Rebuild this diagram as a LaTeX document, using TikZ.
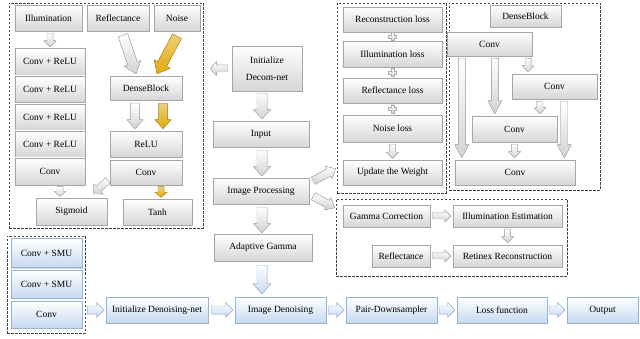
\documentclass[tikz,border=0pt]{standalone}
\usepackage{fontspec}
\setmainfont{Liberation Serif}
\usetikzlibrary{calc,shadows}
\definecolor{boxline}{HTML}{A6A6A6}
\definecolor{boxlow}{HTML}{D6D6D6}
\definecolor{blueline}{HTML}{95B3D7}
\definecolor{bluelow}{HTML}{C6D9F1}
\definecolor{gold}{HTML}{E2A90C}
\definecolor{goldline}{HTML}{B88A0A}
% block arrow: [style]{from}{to}{shaft half width}{head half width}{head length}
\newcommand{\fatarrow}[6][]{%
  \coordinate (fa-s) at (#2);
  \coordinate (fa-e) at (#3);
  \coordinate (fa-m) at ($(fa-e)!#6!(fa-s)$);
  \filldraw[fatarrow,#1] ($(fa-s)!#4!90:(fa-e)$) -- ($(fa-m)!#4!90:(fa-e)$) -- ($(fa-m)!#5!90:(fa-e)$) -- (fa-e)
    -- ($(fa-m)!#5!-90:(fa-e)$) -- ($(fa-m)!#4!-90:(fa-e)$) -- ($(fa-s)!#4!-90:(fa-e)$) -- cycle;
}
\begin{document}
\begin{tikzpicture}[x=1pt,y=-1pt,
  box/.style={draw=boxline, line width=.5pt, top color=white, bottom color=boxlow, inner sep=0pt,
    minimum height=26pt, font=\fontsize{9.5}{11}\selectfont,
    drop shadow={shadow xshift=1pt, shadow yshift=-1pt, opacity=.3}},
  bluebox/.style={box, draw=blueline, bottom color=bluelow},
  panel/.style={draw=black!75, line width=.7pt, dash pattern=on 2.5pt off 1.5pt, inner sep=0pt},
  fatarrow/.style={draw=gray!65, line width=.4pt, top color=white, bottom color=gray!35},
  goldarrow/.style={draw=goldline, top color=gold!55, bottom color=gold},
  bluearrow/.style={draw=blueline, top color=white, bottom color=bluelow},
  pics/plusmark/.style={code={\filldraw[fatarrow] (-4,-1.3) -- (-1.3,-1.3) -- (-1.3,-4) -- (1.3,-4) -- (1.3,-1.3) -- (4,-1.3)
    -- (4,1.3) -- (1.3,1.3) -- (1.3,4) -- (-1.3,4) -- (-1.3,1.3) -- (-4,1.3) -- cycle;}}]
\useasboundingbox (0,0) rectangle (640,339);

%DECOM-NET
\node[panel, minimum width=194pt, minimum height=225pt] (lpanel) at (106,115.5) {};
\node[box, minimum width=67pt] (ill) at (48.5,18) {Illumination};
\node[box, minimum width=62pt] (refl) at (118,18) {Reflectance};
\node[box, minimum width=46pt] (noise) at (177,18) {Noise};
\node[box, minimum width=70pt, minimum height=27pt] (cr1) at (50,61.5) {Conv + ReLU};
\node[box, minimum width=70pt] (cr2) at (50,89) {Conv + ReLU};
\node[box, minimum width=70pt] (cr3) at (50,117) {Conv + ReLU};
\node[box, minimum width=70pt] (cr4) at (50,144) {Conv + ReLU};
\node[box, minimum width=70pt, minimum height=27pt] (lconv) at (50,171.5) {Conv};
\node[box, minimum width=71pt, minimum height=27pt] (sig) at (71.5,211.5) {Sigmoid};
\node[box, minimum width=72pt, minimum height=24pt] (dense) at (146,88) {DenseBlock};
\node[box, minimum width=72pt] (relu) at (146,144) {ReLU};
\node[box, minimum width=72pt, minimum height=25pt] (rconv) at (146,172.5) {Conv};
\node[box, minimum width=69pt] (tanh) at (157.5,212) {Tanh};
\fatarrow{$(ill.south -| cr1.north)+(0,2)$}{$(cr1.north)+(0,-1)$}{3pt}{6pt}{6pt}
\fatarrow{$(refl.south)+(5,4)$}{$(dense.north)+(-10,-2)$}{5pt}{9pt}{11pt}
\fatarrow[goldarrow]{$(noise.south)+(0,5)$}{$(dense.north)+(11,-2)$}{5pt}{9pt}{11pt}
\fatarrow{$(dense.south)+(-11,3)$}{$(relu.north)+(-11,-2)$}{4.5pt}{8pt}{9pt}
\fatarrow[goldarrow]{$(dense.south)+(17,3)$}{$(relu.north)+(17,-2)$}{4.5pt}{8pt}{9pt}
\fatarrow{$(lconv.south)+(10,1.5)$}{$(sig.north)+(-11.5,-1.5)$}{3pt}{6pt}{5pt}
\fatarrow{$(rconv.south west)+(-2,-5)$}{$(sig.north east)+(-14,-4)$}{3.5pt}{7pt}{7pt}
\fatarrow[goldarrow]{$(rconv.south)+(15,1.5)$}{$(tanh.north)+(3.5,-1.5)$}{3pt}{6pt}{5pt}

%MAIN
\node[box, minimum width=70pt, minimum height=45pt, align=center, font=\fontsize{9.5}{17}\selectfont] (init) at (267,68.5) {Initialize\\Decom-net};
\node[box, minimum width=96pt] (input) at (261,134) {Input};
\node[box, minimum width=96pt] (improc) at (261,191) {Image Processing};
\node[box, minimum width=98pt, minimum height=27pt] (gamma) at (263,247.5) {Adaptive Gamma};
\fatarrow{$(init.west)+(-4,0)$}{$(lpanel.east |- init.west)+(7,0)$}{3.5pt}{7pt}{6pt}
\fatarrow{$(init.south)+(-5,2)$}{$(input.north)+(1,-2)$}{5pt}{8.5pt}{9pt}
\fatarrow{$(input.south)+(1,3)$}{$(improc.north)+(1,-2)$}{5pt}{8.5pt}{9pt}
\fatarrow{$(improc.south)+(1,3)$}{$(gamma.north)+(-1,-1)$}{5pt}{8.5pt}{9pt}

%LOSS
\node[panel, minimum width=109pt, minimum height=190pt] (losspanel) at (391.5,98) {};
\node[box, minimum width=99pt, minimum height=25pt] (rec) at (392.5,19.5) {Reconstruction loss};
\node[box, minimum width=99pt] (illl) at (392.5,54) {Illumination loss};
\node[box, minimum width=99pt, minimum height=25pt] (refll) at (392.5,90.5) {Reflectance loss};
\node[box, minimum width=99pt, minimum height=27pt] (noisel) at (392.5,128.5) {Noise loss};
\node[box, minimum width=99pt, minimum height=25pt] (upd) at (392.5,172.5) {Update the Weight};
\pic at ($(rec.south)!.5!(illl.north)$) {plusmark};
\pic at ($(illl.south)!.5!(refll.north)$) {plusmark};
\pic at ($(refll.south)!.5!(noisel.north)$) {plusmark};
\fatarrow{$(noisel.south)+(0,2)$}{$(upd.north)+(0,-1.5)$}{3pt}{6pt}{6pt}
\fatarrow{$(improc.north east)+(4,3)$}{$(losspanel.west |- improc.north)+(-1,-9)$}{4pt}{7pt}{8pt}

%DENSEBLOCK
\node[panel, minimum width=151pt, minimum height=187pt] (dbpanel) at (524.5,96.5) {};
\node[box, minimum width=71pt, minimum height=22pt] (dbt) at (525.5,16) {DenseBlock};
\node[box, minimum width=85pt, minimum height=24pt] (dc1) at (489.5,44) {Conv};
\node[box, minimum width=85pt, minimum height=25pt] (dc2) at (554.5,86.5) {Conv};
\node[box, minimum width=85pt] (dc3) at (514.5,129) {Conv};
\node[box, minimum width=120pt, minimum height=25pt] (dc4) at (515,172.5) {Conv};
\fatarrow{$(dc1.south west)+(15,2)$}{$(dc4.north west)+(7,-2)$}{3.5pt}{7pt}{13pt}
\fatarrow{$(dc1.south)+(5.5,2)$}{$(dc3.north west)+(23,-2)$}{3.5pt}{7pt}{13pt}
\fatarrow{$(dc1.south east)+(-4,2)$}{$(dc2.north west)+(16,-2)$}{3pt}{6pt}{6pt}
\fatarrow{$(dc2.south west)+(28,2)$}{$(dc3.north east)+(-17,-2)$}{3pt}{6pt}{6pt}
\fatarrow{$(dc2.south east)+(-33,2)$}{$(dc4.north east)+(-11,-2)$}{3.5pt}{7pt}{13pt}
\fatarrow{$(dc3.south)+(0,2)$}{$(dc4.north)+(-0.5,-2)$}{3pt}{6pt}{6pt}

%RETINEX
\node[panel, minimum width=231pt, minimum height=77pt] (retpanel) at (451.5,237.5) {};
\node[box, minimum width=87pt, minimum height=22pt] (gcor) at (386.5,216) {Gamma Correction};
\node[box, minimum width=109pt, minimum height=22pt] (iest) at (507.5,216) {Illumination Estimation};
\node[box, minimum width=58pt, minimum height=22pt] (rfl2) at (401,256) {Reflectance};
\node[box, minimum width=109pt, minimum height=22pt] (rrec) at (507.5,256) {Retinex Reconstruction};
\fatarrow{$(gcor.east)+(2,0)$}{$(iest.west)+(-2,0)$}{3pt}{6pt}{6pt}
\fatarrow{$(iest.south)+(0,2)$}{$(rrec.north)+(0,-2)$}{3pt}{6pt}{6pt}
\fatarrow{$(rfl2.east)+(2,0)$}{$(rrec.west)+(-2,0)$}{3pt}{6pt}{6pt}
\fatarrow{$(improc.south east)+(4,-8)$}{$(retpanel.north west)+(-1,9)$}{4pt}{7pt}{8pt}

%DENOISING
\node[panel, minimum width=78pt, minimum height=97pt] (smupanel) at (46,284.5) {};
\node[bluebox, minimum width=71pt, minimum height=29pt] (smu1) at (46.5,253) {Conv + SMU};
\node[bluebox, minimum width=71pt, minimum height=28pt] (smu2) at (46.5,284) {Conv + SMU};
\node[bluebox, minimum width=71pt, minimum height=27pt] (dconv) at (46.5,314.5) {Conv};
\node[bluebox, minimum width=102pt] (initd) at (157,310) {Initialize Denoising-net};
\node[bluebox, minimum width=91pt] (imden) at (280.5,310) {Image Denoising};
\node[bluebox, minimum width=91pt] (pair) at (391.5,310) {Pair-Downsampler};
\node[bluebox, minimum width=90pt] (lossf) at (502,310) {Loss function};
\node[bluebox, minimum width=71pt] (out) at (602.5,310) {Output};
\fatarrow[bluearrow]{$(gamma.south)+(-1,4)$}{$(imden.north -| gamma.south)+(-1,-3)$}{5pt}{9pt}{10pt}
\fatarrow[bluearrow]{$(smupanel.east |- initd.west)+(2,0)$}{$(initd.west)+(-2,0)$}{4pt}{7.5pt}{7pt}
\fatarrow[bluearrow]{$(initd.east)+(3,0)$}{$(imden.west)+(-2,0)$}{4pt}{7.5pt}{7pt}
\fatarrow[bluearrow]{$(imden.east)+(2,0)$}{$(pair.west)+(-2,0)$}{4pt}{7.5pt}{7pt}
\fatarrow[bluearrow]{$(pair.east)+(2,0)$}{$(lossf.west)+(-2,0)$}{4pt}{7.5pt}{7pt}
\fatarrow[bluearrow]{$(lossf.east)+(2,0)$}{$(out.west)+(-2,0)$}{4pt}{7.5pt}{7pt}
\end{tikzpicture}
\end{document}
